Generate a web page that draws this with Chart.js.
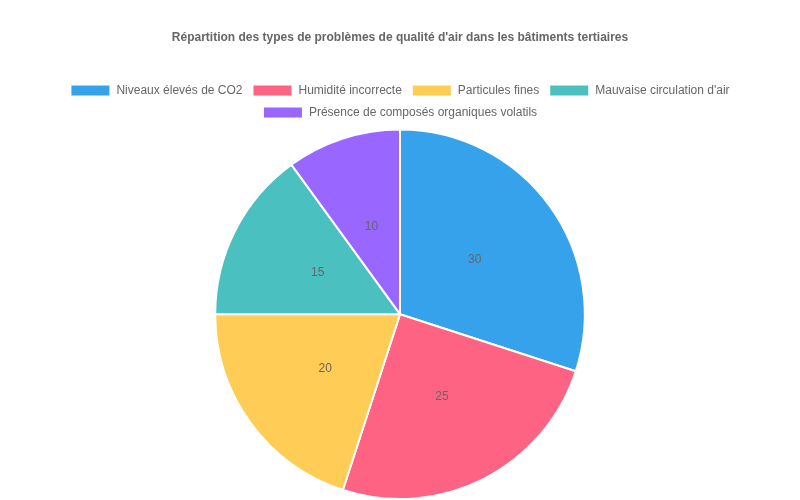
<!DOCTYPE html>
<html>
<head>
<meta charset="utf-8">
<script src="https://cdn.jsdelivr.net/npm/chart.js@4"></script>
<style>
  html, body { margin: 0; padding: 0; background: #fff; }
  #wrap { width: 800px; height: 500px; }
</style>
</head>
<body>
<div id="wrap"><canvas id="airChart"></canvas></div>
<script>
// types de problèmes et parts (%)
var categories = ['Niveaux élevés de CO2', 'Humidité incorrecte', 'Particules fines', 'Mauvaise circulation d\'air', 'Présence de composés organiques volatils'];
var values = [30, 25, 20, 15, 10];
var colors = ['#36A2EB', '#FF6384', '#FFCD56', '#4BC0C0', '#9966FF'];

Chart.defaults.color = '#666';

// valeurs écrites au milieu de chaque part
var valueLabels = {
    id: 'valueLabels',
    afterDatasetsDraw: function(chart) {
        var ctx = chart.ctx;
        var meta = chart.getDatasetMeta(0);
        ctx.save();
        ctx.font = '12px "Helvetica Neue", Helvetica, Arial, sans-serif';
        ctx.fillStyle = '#666';
        ctx.textAlign = 'center';
        ctx.textBaseline = 'middle';
        meta.data.forEach(function(arc, i) {
            var p = arc.getCenterPoint();
            ctx.fillText(String(values[i]), p.x, p.y);
        });
        ctx.restore();
    }
};

new Chart(document.getElementById('airChart').getContext('2d'), {
    type: 'pie',
    data: {
        labels: categories,
        datasets: [{
            data: values,
            backgroundColor: colors,
            borderColor: '#fff',
            borderWidth: 2
        }]
    },
    options: {
        responsive: true,
        maintainAspectRatio: false,
        animation: false,
        plugins: {
            title: {
                display: true,
                text: 'Répartition des types de problèmes de qualité d\'air dans les bâtiments tertiaires',
                color: '#666',
                font: { size: 12, weight: 'bold' },
                padding: { top: 30, bottom: 30 }
            },
            legend: {
                position: 'top',
                labels: { color: '#666', font: { size: 12 } }
            },
            tooltip: { enabled: false }
        }
    },
    plugins: [valueLabels]
});
</script>
</body>
</html>
